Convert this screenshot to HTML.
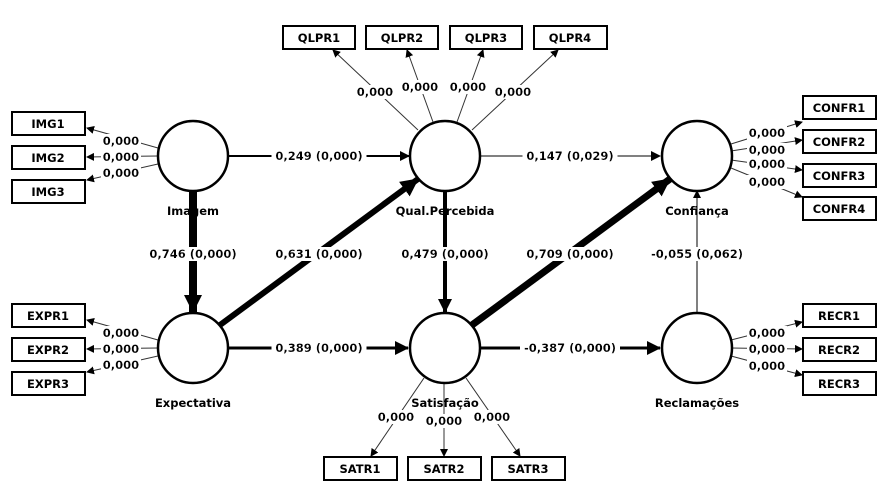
<!DOCTYPE html>
<html><head><meta charset="utf-8"><style>
html,body{margin:0;padding:0;background:#fff}
svg{display:block}
text{font-family:"DejaVu Sans","Liberation Sans",sans-serif;font-weight:bold;font-size:11.5px;fill:#000}
.lb text{filter:url(#bg)}
</style></head><body>
<svg width="882" height="486" viewBox="0 0 882 486" xmlns="http://www.w3.org/2000/svg">
<defs>
<filter id="bg" x="-0.04" y="0" width="1.08" height="1"><feFlood flood-color="#fff"/><feComposite in="SourceGraphic"/></filter>
<marker id="a1" markerWidth="8" markerHeight="8" refX="7" refY="4" orient="auto" markerUnits="userSpaceOnUse"><path d="M0,0 L8,4 L0,8 z" fill="#000"/></marker>
<marker id="a2" markerWidth="10" markerHeight="10" refX="9" refY="5" orient="auto" markerUnits="userSpaceOnUse"><path d="M0,0 L10,5 L0,10 z" fill="#000"/></marker>
<marker id="a3" markerWidth="14" markerHeight="14" refX="13" refY="7" orient="auto" markerUnits="userSpaceOnUse"><path d="M0,0 L14,7 L0,14 z" fill="#000"/></marker>
<marker id="a4" markerWidth="18" markerHeight="18" refX="17" refY="9" orient="auto" markerUnits="userSpaceOnUse"><path d="M0,0 L18,9 L0,18 z" fill="#000"/></marker>
</defs>
<g stroke="#000" fill="none">
<g stroke-width="1" stroke="#333" marker-end="url(#a1)">
<line x1="158" y1="148" x2="87" y2="128"/>
<line x1="158" y1="156" x2="87" y2="157"/>
<line x1="158" y1="164" x2="87" y2="180"/>
<line x1="158" y1="340" x2="87" y2="320"/>
<line x1="158" y1="348" x2="87" y2="349"/>
<line x1="158" y1="356" x2="87" y2="372"/>
<line x1="418" y1="130" x2="333" y2="50"/>
<line x1="433" y1="122" x2="407" y2="50"/>
<line x1="457" y1="122" x2="483" y2="50"/>
<line x1="472" y1="130" x2="558" y2="50"/>
<line x1="731" y1="144" x2="802" y2="122"/>
<line x1="731" y1="151" x2="802" y2="140"/>
<line x1="731" y1="160" x2="802" y2="170"/>
<line x1="731" y1="168" x2="802" y2="197"/>
<line x1="731" y1="340" x2="802" y2="322"/>
<line x1="731" y1="348" x2="802" y2="349"/>
<line x1="731" y1="356" x2="802" y2="375"/>
<line x1="424" y1="378" x2="371" y2="456"/>
<line x1="444" y1="383" x2="444" y2="456"/>
<line x1="466" y1="378" x2="520" y2="456"/>
</g>
<line x1="229" y1="156" x2="409" y2="156" stroke-width="2" marker-end="url(#a2)"/>
<line x1="480" y1="156" x2="660" y2="156" stroke-width="1" marker-end="url(#a2)"/>
<line x1="229" y1="348" x2="408" y2="348" stroke-width="3" marker-end="url(#a3)"/>
<line x1="480" y1="348" x2="660" y2="348" stroke-width="3" marker-end="url(#a3)"/>
<line x1="697" y1="313" x2="697" y2="191" stroke-width="1" marker-end="url(#a1)"/>
<line x1="193" y1="191" x2="193" y2="312" stroke-width="8" marker-end="url(#a4)"/>
<line x1="445" y1="191" x2="445" y2="312" stroke-width="4" marker-end="url(#a3)"/>
<line x1="220" y1="325" x2="418" y2="179" stroke-width="6" marker-end="url(#a4)"/>
<line x1="472" y1="325" x2="670" y2="179" stroke-width="7" marker-end="url(#a4)"/>
<g stroke-width="2.5" fill="#fff">
<circle cx="193" cy="156" r="35"/><circle cx="445" cy="156" r="35"/><circle cx="697" cy="156" r="35"/>
<circle cx="193" cy="348" r="35"/><circle cx="445" cy="348" r="35"/><circle cx="697" cy="348" r="35"/>
</g>
<g stroke-width="2" fill="#fff">
<rect x="12" y="112" width="73" height="23"/><rect x="12" y="146" width="73" height="23"/><rect x="12" y="180" width="73" height="23"/>
<rect x="12" y="304" width="73" height="23"/><rect x="12" y="338" width="73" height="23"/><rect x="12" y="372" width="73" height="23"/>
<rect x="283" y="26" width="72" height="23"/><rect x="366" y="26" width="72" height="23"/><rect x="450" y="26" width="72" height="23"/><rect x="534" y="26" width="73" height="23"/>
<rect x="803" y="96" width="73" height="23"/><rect x="803" y="130" width="73" height="23"/><rect x="803" y="164" width="73" height="23"/><rect x="803" y="197" width="73" height="23"/>
<rect x="803" y="304" width="73" height="23"/><rect x="803" y="338" width="73" height="23"/><rect x="803" y="372" width="73" height="23"/>
<rect x="324" y="457" width="73" height="23"/><rect x="408" y="457" width="73" height="23"/><rect x="492" y="457" width="73" height="23"/>
</g>
</g>
<g text-anchor="middle">
<text x="48" y="128">IMG1</text><text x="48" y="162">IMG2</text><text x="48" y="196">IMG3</text>
<text x="48" y="320">EXPR1</text><text x="48" y="354">EXPR2</text><text x="48" y="388">EXPR3</text>
<text x="319" y="42">QLPR1</text><text x="402" y="42">QLPR2</text><text x="486" y="42">QLPR3</text><text x="570" y="42">QLPR4</text>
<text x="839" y="112">CONFR1</text><text x="839" y="146">CONFR2</text><text x="839" y="180">CONFR3</text><text x="839" y="213">CONFR4</text>
<text x="839" y="320">RECR1</text><text x="839" y="354">RECR2</text><text x="839" y="388">RECR3</text>
<text x="360" y="473">SATR1</text><text x="444" y="473">SATR2</text><text x="528" y="473">SATR3</text>
<text x="193" y="215">Imagem</text><text x="445" y="215">Qual.Percebida</text><text x="697" y="215">Confiança</text>
<text x="193" y="407">Expectativa</text><text x="445" y="407">Satisfação</text><text x="697" y="407">Reclamações</text>
</g>
<g text-anchor="middle" class="lb">
<text x="121" y="145">0,000</text><text x="121" y="161">0,000</text><text x="121" y="177">0,000</text>
<text x="121" y="337">0,000</text><text x="121" y="353">0,000</text><text x="121" y="369">0,000</text>
<text x="375" y="96">0,000</text><text x="420" y="91">0,000</text><text x="468" y="91">0,000</text><text x="513" y="96">0,000</text>
<text x="767" y="137">0,000</text><text x="767" y="154">0,000</text><text x="767" y="168">0,000</text><text x="767" y="186">0,000</text>
<text x="767" y="337">0,000</text><text x="767" y="353">0,000</text><text x="767" y="370">0,000</text>
<text x="396" y="421">0,000</text><text x="444" y="425">0,000</text><text x="492" y="421">0,000</text>
<text x="319" y="160">0,249 (0,000)</text><text x="570" y="160">0,147 (0,029)</text>
<text x="319" y="352">0,389 (0,000)</text><text x="570" y="352">-0,387 (0,000)</text>
<text x="193" y="258">0,746 (0,000)</text><text x="319" y="258">0,631 (0,000)</text>
<text x="445" y="258">0,479 (0,000)</text><text x="570" y="258">0,709 (0,000)</text>
<text x="697" y="258">-0,055 (0,062)</text>
</g>
</svg>
</body></html>
